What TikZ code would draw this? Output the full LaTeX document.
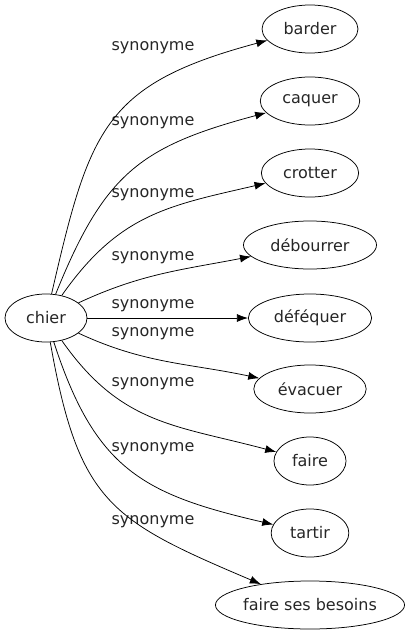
\documentclass[tikz,border=0pt]{standalone}
\usepackage{fontspec}
\setmainfont{DejaVu Sans}
\usetikzlibrary{arrows.meta,shapes.geometric}
\begin{document}
\begin{tikzpicture}[x=1pt, y=1pt, font=\fontsize{16}{18}\selectfont, line width=0.75pt,
  word/.style={ellipse, draw, inner xsep=7.5pt, inner ysep=0pt, minimum height=48pt, text=black!85},
  rel/.style={text=black!85},
  syn/.style={-{Latex[length=11pt,width=8pt]}}]
\useasboundingbox (0,0) rectangle (414,-635);

\node [word, minimum width=82pt] (chier) at (46,-318) {chier};

\node [word] (barder) at (310,-29) {barder};
\node [word] (caquer) at (310,-101) {caquer};
\node [word] (crotter) at (310,-173) {crotter};
\node [word] (debourrer) at (310,-245) {débourrer};
\node [word] (defequer) at (310,-318) {déféquer};
\node [word] (evacuer) at (310,-389) {évacuer};
\node [word] (faire) at (310,-461) {faire};
\node [word] (tartir) at (310,-533) {tartir};
\node [word, inner xsep=0pt] (besoins) at (310,-605) {faire ses besoins};

\node [rel] (l1) at (153,-48) {synonyme};
\node [rel] (l2) at (153,-123) {synonyme};
\node [rel] (l3) at (153,-195) {synonyme};
\node [rel] (l4) at (153,-258) {synonyme};
\node [rel] (l5) at (153,-306) {synonyme};
\node [rel] (l6) at (153,-334) {synonyme};
\node [rel] (l7) at (153,-384) {synonyme};
\node [rel] (l8) at (153,-449) {synonyme};
\node [rel] (l9) at (153,-522) {synonyme};

\draw [syn] (chier) to [out=77, in=195, looseness=1.3] (barder);
\draw [syn] (chier) to [out=68, in=195, looseness=1.2] (caquer);
\draw [syn] (chier) to [out=55, in=193, looseness=1.1] (crotter);
\draw [syn] (chier) to [out=25, in=191] (debourrer);
\draw [syn] (chier) -- (defequer);
\draw [syn] (chier) to [out=-25, in=168] (evacuer);
\draw [syn] (chier) to [out=-55, in=165, looseness=1.1] (faire);
\draw [syn] (chier) to [out=-72, in=167, looseness=1.2] (tartir);
\draw [syn] (chier) to [out=-80, in=157, looseness=1.3] (besoins);
\end{tikzpicture}
\end{document}
